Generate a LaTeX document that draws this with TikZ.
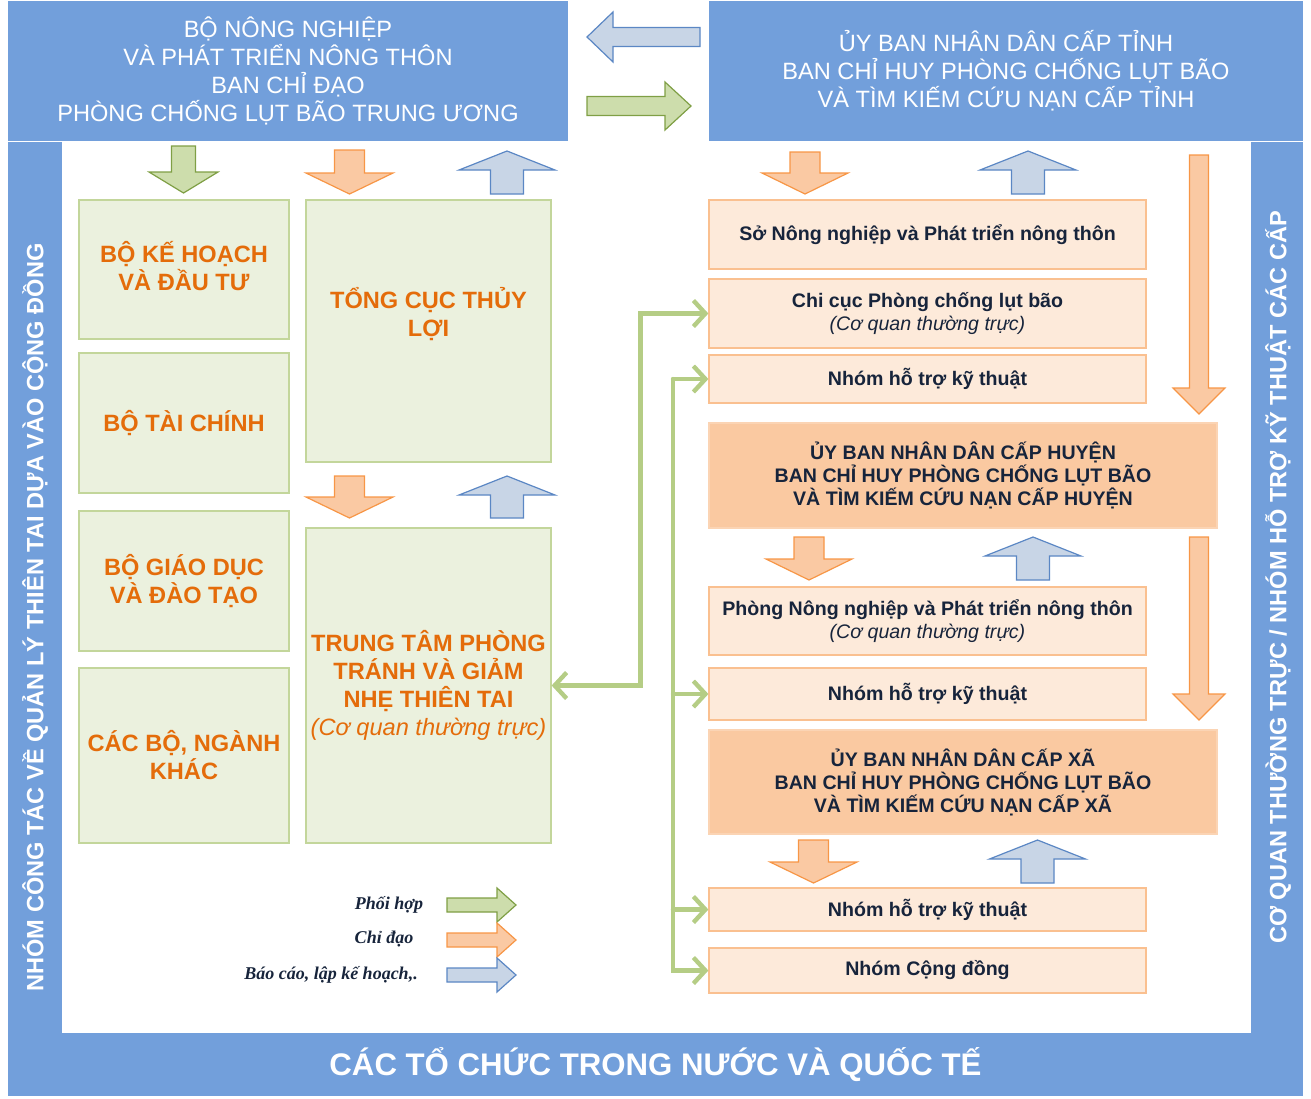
\documentclass[tikz,border=0pt]{standalone}
\usepackage{fontspec}
\setmainfont{Liberation Sans}
\newfontfamily\legendfont{Liberation Serif}
\usetikzlibrary{arrows.meta}

\definecolor{frameblue}{HTML}{729FDB}
\definecolor{boxgreen}{HTML}{EBF1DE}
\definecolor{boxgreenline}{HTML}{C3D69B}
\definecolor{txtorange}{HTML}{E46C0A}
\definecolor{peach}{HTML}{FDEADA}
\definecolor{peachline}{HTML}{FAC090}
\definecolor{levelfill}{HTML}{FAC9A1}
\definecolor{levelline}{HTML}{FBD4B4}
\definecolor{navy}{HTML}{17243B}
\definecolor{conngreen}{HTML}{B5CD85}
\definecolor{arrgreen}{HTML}{CDDDAC}
\definecolor{arrgreenline}{HTML}{7F9F45}
\definecolor{arrorange}{HTML}{FAC9A3}
\definecolor{arrorangeline}{HTML}{F79646}
\definecolor{arrblue}{HTML}{C8D5E6}
\definecolor{arrblueline}{HTML}{5B87C4}

% block arrows: centre, tail, tip, half shaft, half head, head length, style
\newcommand{\arrdown}[7]{\filldraw[#7] (#1-#4,#2) -- (#1+#4,#2) -- (#1+#4,#3-#6) -- (#1+#5,#3-#6) -- (#1,#3) -- (#1-#5,#3-#6) -- (#1-#4,#3-#6) -- cycle;}
\newcommand{\arrup}[7]{\filldraw[#7] (#1-#4,#2) -- (#1+#4,#2) -- (#1+#4,#3+#6) -- (#1+#5,#3+#6) -- (#1,#3) -- (#1-#5,#3+#6) -- (#1-#4,#3+#6) -- cycle;}
\newcommand{\arrright}[7]{\filldraw[#7] (#2,#1-#4) -- (#3-#6,#1-#4) -- (#3-#6,#1-#5) -- (#3,#1) -- (#3-#6,#1+#5) -- (#3-#6,#1+#4) -- (#2,#1+#4) -- cycle;}
\newcommand{\arrleft}[7]{\filldraw[#7] (#2,#1-#4) -- (#3+#6,#1-#4) -- (#3+#6,#1-#5) -- (#3,#1) -- (#3+#6,#1+#5) -- (#3+#6,#1+#4) -- (#2,#1+#4) -- cycle;}

\tikzset{
  >={Straight Barb[length=6pt,width=13pt]},
  greenarrow/.style={fill=arrgreen, draw=arrgreenline, line width=0.6pt},
  orangearrow/.style={fill=arrorange, draw=arrorangeline, line width=0.6pt},
  bluearrow/.style={fill=arrblue, draw=arrblueline, line width=0.6pt},
  headbox/.style={fill=frameblue, text=white, align=center, inner sep=0pt, font=\fontsize{11.8}{14}\selectfont},
  bandtext/.style={text=white, rotate=90, inner sep=0pt, font=\fontsize{11.8}{14}\selectfont\bfseries},
  ministry/.style={draw=boxgreenline, fill=boxgreen, line width=0.6pt, inner sep=0pt, align=center, text=txtorange, font=\fontsize{11.8}{14}\selectfont\bfseries},
  unitbox/.style={draw=peachline, fill=peach, line width=0.6pt, inner sep=0pt, align=center, text=navy, font=\fontsize{9.8}{11.5}\selectfont\bfseries, minimum width=218.5pt},
  levelbox/.style={unitbox, fill=levelfill, draw=levelline, minimum width=254pt},
  link/.style={draw=conngreen, line width=2.2pt, line cap=round, ->},
  legendtext/.style={text=navy, inner sep=0pt, font=\legendfont\fontsize{9}{11}\selectfont\bfseries\itshape}
}

\begin{document}
\begin{tikzpicture}[x=0.5pt,y=-0.5pt]
  \useasboundingbox (0,0) rectangle (1311,1098);

  % frame
  \fill[frameblue] (8,142) rectangle (62,1033);
  \fill[frameblue] (1251,142) rectangle (1303,1033);
  \node[headbox, minimum width=280pt, minimum height=70pt] (bnn) at (288,71)
    {BỘ NÔNG NGHIỆP\\VÀ PHÁT TRIỂN NÔNG THÔN\\BAN CHỈ ĐẠO\\PHÒNG CHỐNG LỤT BÃO TRUNG ƯƠNG};
  \node[headbox, minimum width=297pt, minimum height=70pt] (ubtinh) at (1006,71)
    {ỦY BAN NHÂN DÂN CẤP TỈNH\\BAN CHỈ HUY PHÒNG CHỐNG LỤT BÃO\\VÀ TÌM KIẾM CỨU NẠN CẤP TỈNH};
  \node[headbox, minimum width=647.5pt, minimum height=31.5pt, font=\fontsize{15.6}{18}\selectfont\bfseries] (quocte) at (655.5,1064.5)
    {CÁC TỔ CHỨC TRONG NƯỚC VÀ QUỐC TẾ};
  \node[bandtext] (nhomcongtac) at (35,617.5) {NHÓM CÔNG TÁC VỀ QUẢN LÝ THIÊN TAI DỰA VÀO CỘNG ĐỒNG};
  \node[bandtext] (thuongtruc) at (1278,577.5) {CƠ QUAN THƯỜNG TRỰC / NHÓM HỖ TRỢ KỸ THUẬT CÁC CẤP};

  % between the two headers
  \arrleft{37}{700}{587}{9.5}{25}{26}{bluearrow}
  \arrright{106}{587}{691}{9.5}{24}{26}{greenarrow}

  % central level
  \node[ministry, minimum width=105pt, minimum height=69.5pt] (khdt) at (184,269.5) {};
  \node[ministry, draw=none, fill=none] (khdttext) at ([yshift=1.5pt]khdt.center) {BỘ KẾ HOẠCH\\VÀ ĐẦU TƯ};
  \node[ministry, minimum width=105pt, minimum height=70pt] (taichinh) at (184,423) {BỘ TÀI CHÍNH};
  \node[ministry, minimum width=105pt, minimum height=70pt] (giaoduc) at (184,581) {BỘ GIÁO DỤC\\VÀ ĐÀO TẠO};
  \node[ministry, minimum width=105pt, minimum height=87.5pt] (bonganh) at (184,755.5) {CÁC BỘ, NGÀNH\\KHÁC};
  \node[ministry, minimum width=122.5pt, minimum height=131pt] (tongcuc) at (428.5,331) {};
  \node[ministry, draw=none, fill=none] (tongcuctext) at ([yshift=8.5pt]tongcuc.center) {TỔNG CỤC THỦY\\LỢI};
  \node[ministry, minimum width=122.5pt, minimum height=157.5pt] (trungtam) at (428.5,685.5)
    {TRUNG TÂM PHÒNG\\TRÁNH VÀ GIẢM\\NHẸ THIÊN TAI\\{\mdseries\itshape (Cơ quan thường trực)}};

  \arrdown{183.5}{146}{193}{12}{34.5}{21}{greenarrow}
  \arrdown{349.5}{150}{194}{15}{43.5}{21}{orangearrow}
  \arrup{507}{194}{151}{16.5}{48}{19}{bluearrow}
  \arrdown{349.5}{476}{518}{15}{43.5}{21}{orangearrow}
  \arrup{507}{518}{476}{16.5}{48}{19}{bluearrow}

  % province, district, commune
  \node[unitbox, minimum height=34.5pt] (so) at (927.5,234.5) {Sở Nông nghiệp và Phát triển nông thôn};
  \node[unitbox, minimum height=34.5pt] (chicuc) at (927.5,313.5)
    {Chi cục Phòng chống lụt bão\\{\mdseries\itshape (Cơ quan thường trực)}};
  \node[unitbox, minimum height=24pt] (nhomtinh) at (927.5,379) {Nhóm hỗ trợ kỹ thuật};
  \node[levelbox, minimum height=52.5pt] (huyen) at (963,475.5)
    {ỦY BAN NHÂN DÂN CẤP HUYỆN\\BAN CHỈ HUY PHÒNG CHỐNG LỤT BÃO\\VÀ TÌM KIẾM CỨU NẠN CẤP HUYỆN};
  \node[unitbox, minimum height=34pt] (phong) at (927.5,621)
    {Phòng Nông nghiệp và Phát triển nông thôn\\{\mdseries\itshape (Cơ quan thường trực)}};
  \node[unitbox, minimum height=26pt] (nhomhuyen) at (927.5,694) {Nhóm hỗ trợ kỹ thuật};
  \node[levelbox, minimum height=52pt] (xa) at (963,782)
    {ỦY BAN NHÂN DÂN CẤP XÃ\\BAN CHỈ HUY PHÒNG CHỐNG LỤT BÃO\\VÀ TÌM KIẾM CỨU NẠN CẤP XÃ};
  \node[unitbox, minimum height=21.5pt] (nhomxa) at (927.5,909.5) {Nhóm hỗ trợ kỹ thuật};
  \node[unitbox, minimum height=22.5pt] (congdong) at (927.5,970.5) {Nhóm Cộng đồng};

  \arrdown{805}{152}{194}{15}{43}{21}{orangearrow}
  \arrup{1028}{194}{151}{16.5}{48}{19}{bluearrow}
  \arrdown{809}{537}{580}{15}{43}{21}{orangearrow}
  \arrup{1033}{580}{537}{16.5}{48}{19}{bluearrow}
  \arrdown{813.5}{840}{883}{15}{43.5}{21}{orangearrow}
  \arrup{1037.5}{883}{840}{16.5}{48}{19}{bluearrow}
  \arrdown{1199}{155}{414}{9.5}{26}{26}{orangearrow}
  \arrdown{1199}{537}{720}{9.5}{26}{26}{orangearrow}

  % coordination links
  \draw[link, <->] (trungtam.east) -- ++(89,0) |- (chicuc.west);
  \coordinate (bus) at (673,379);
  \draw[link] (bus) -- (nhomtinh.west);
  \draw[link] (bus) |- (congdong.west);
  \draw[link] (bus |- nhomhuyen.west) -- (nhomhuyen.west);
  \draw[link] (bus |- nhomxa.west) -- (nhomxa.west);

  % legend
  \node[legendtext] (phoihop) at (389,905) {Phối hợp};
  \node[legendtext] (chidao) at (384,939) {Chỉ đạo};
  \node[legendtext] (baocao) at (331,975) {Báo cáo, lập kế hoạch,.};
  \arrright{905}{447}{516}{7}{17}{19}{greenarrow}
  \arrright{940}{447}{516}{7}{17}{19}{orangearrow}
  \arrright{975}{447}{516}{7}{17}{19}{bluearrow}
\end{tikzpicture}
\end{document}
